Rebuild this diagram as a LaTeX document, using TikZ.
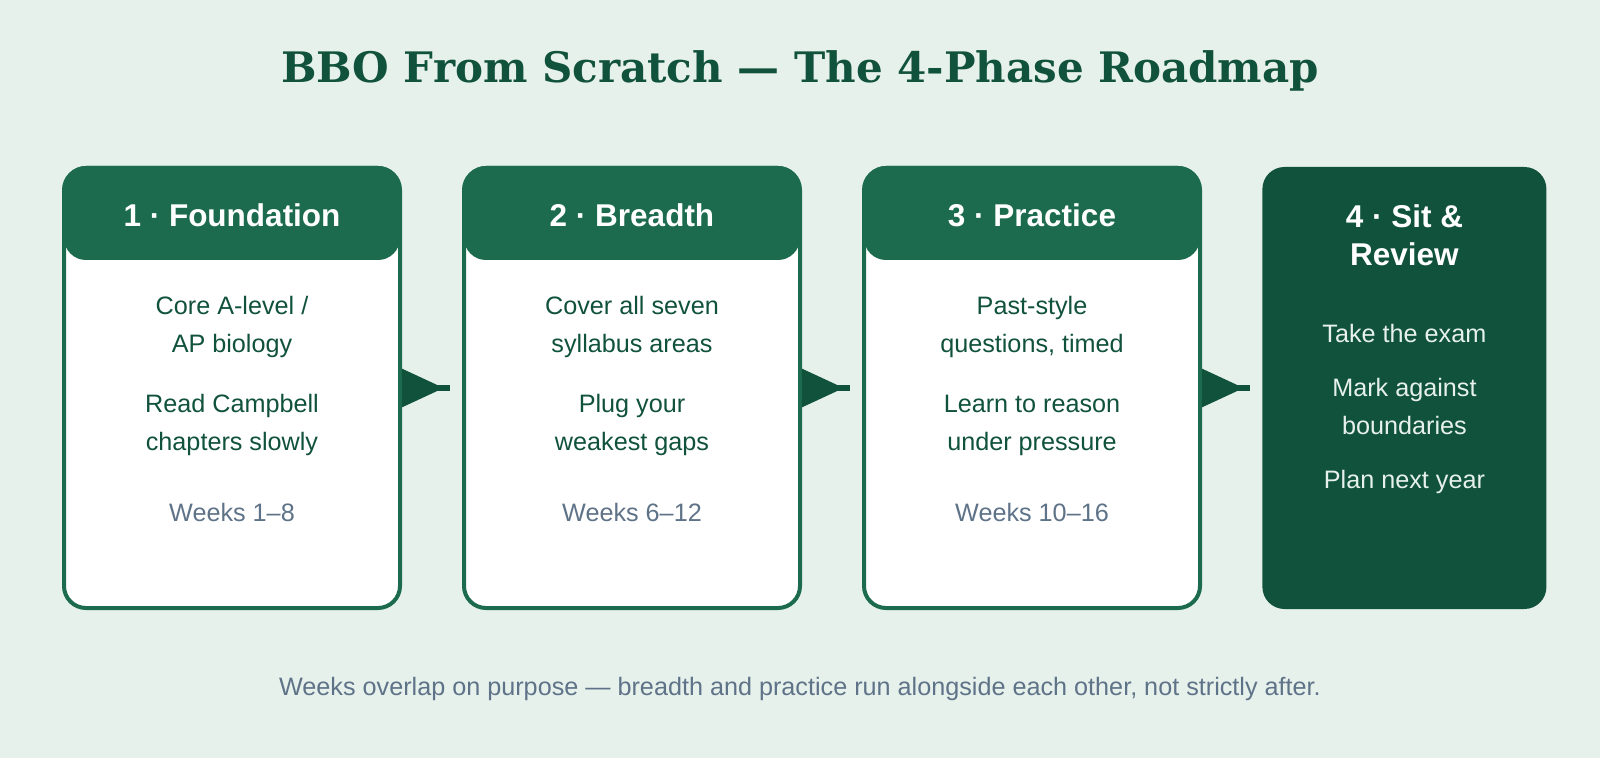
\documentclass[tikz,border=0pt]{standalone}
\usepackage{fontspec}
\setmainfont{Liberation Sans}
\newfontfamily\headingfont{DejaVu Serif}
\definecolor{Mint}{RGB}{231, 241, 236}
\definecolor{Pine}{RGB}{28, 107, 79}
\definecolor{DeepPine}{RGB}{17, 82, 61}
\definecolor{Slate}{RGB}{95, 115, 136}
\usetikzlibrary{arrows.meta, positioning}

\begin{document}
\begin{tikzpicture}[
            x=0.5pt, y=-0.5pt,
            node distance=30pt,
            phase/.style={rectangle, rounded corners=11pt, draw=Pine, line width=2pt, fill=white,
                          minimum width=168pt, minimum height=220pt},
            lastphase/.style={rectangle, rounded corners=11pt, fill=DeepPine,
                              minimum width=142pt, minimum height=221pt},
            header/.style={rectangle, rounded corners=11pt, fill=Pine, minimum width=168pt,
                           minimum height=47pt, anchor=north, inner sep=0pt, outer sep=0pt},
            phasetitle/.style={font=\bfseries\fontsize{15.75}{19}\selectfont, text=white, inner sep=0pt},
            body/.style={font=\fontsize{12.6}{19}\selectfont, text=DeepPine, align=center, inner sep=0pt},
            weeks/.style={font=\fontsize{12.6}{19}\selectfont, text=Slate, inner sep=0pt},
            arrow/.style={{Triangle[reversed, length=21pt, width=18.5pt]}-, line width=3pt, DeepPine, shorten >=6pt}
        ]
            \fill[Mint] (0,0) rectangle (1600,758);
            \useasboundingbox (0,0) rectangle (1600,758);

            \node[font=\headingfont\bfseries\fontsize{21}{25}\selectfont, text=DeepPine, anchor=base] (title) at (800,83)
                {BBO From Scratch — The 4-Phase Roadmap};

            \node[phase] (f1) at (232,388) {};
            \node[phase, right=of f1] (f2) {};
            \node[phase, right=of f2] (f3) {};
            \node[lastphase, right=of f3] (f4) {};

            \node[header] (f1head) at (f1.north) {};
            \node[header] (f2head) at (f2.north) {};
            \node[header] (f3head) at (f3.north) {};

            % base anchor of a two-line node sits on its last line
            \node[phasetitle, below=30.5pt of f1.north, anchor=base] (f1title) {1 · Foundation};
            \node[phasetitle, below=30.5pt of f2.north, anchor=base] (f2title) {2 · Breadth};
            \node[phasetitle, below=30.5pt of f3.north, anchor=base] (f3title) {3 · Practice};
            \node[phasetitle, align=center, below=49.5pt of f4.north, anchor=base] (f4title) {4 · Sit \&\\Review};

            \node[body, below=93.5pt of f1.north, anchor=base] (f1core) {Core A-level /\\AP biology};
            \node[body, below=142.5pt of f1.north, anchor=base] (f1read) {Read Campbell\\chapters slowly};
            \node[weeks, below=178pt of f1.north, anchor=base] (f1weeks) {Weeks 1--8};

            \node[body, below=93.5pt of f2.north, anchor=base] (f2cover) {Cover all seven\\syllabus areas};
            \node[body, below=142.5pt of f2.north, anchor=base] (f2plug) {Plug your\\weakest gaps};
            \node[weeks, below=178pt of f2.north, anchor=base] (f2weeks) {Weeks 6--12};

            \node[body, below=93.5pt of f3.north, anchor=base] (f3past) {Past-style\\questions, timed};
            \node[body, below=142.5pt of f3.north, anchor=base] (f3learn) {Learn to reason\\under pressure};
            \node[weeks, below=178pt of f3.north, anchor=base] (f3weeks) {Weeks 10--16};

            \node[body, text=Mint, below=88pt of f4.north, anchor=base] (f4exam) {Take the exam};
            \node[body, text=Mint, below=134pt of f4.north, anchor=base] (f4mark) {Mark against\\boundaries};
            \node[body, text=Mint, below=161pt of f4.north, anchor=base] (f4plan) {Plan next year};

            \draw[arrow] (f1) -- (f2);
            \draw[arrow] (f2) -- (f3);
            \draw[arrow] (f3) -- (f4);

            \node[weeks, anchor=base] (note) at (800,695)
                {Weeks overlap on purpose — breadth and practice run alongside each other, not strictly after.};
        \end{tikzpicture}
\end{document}
